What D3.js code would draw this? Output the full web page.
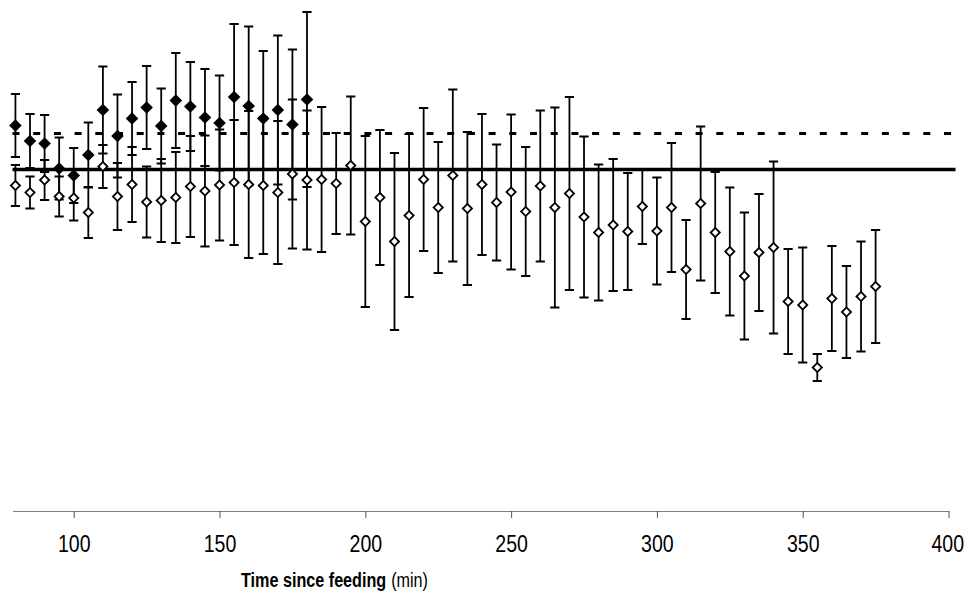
<!DOCTYPE html>
<html>
<head>
<meta charset="utf-8">
<script src="https://cdn.jsdelivr.net/npm/d3@7"></script>
<style>
  html, body { margin: 0; padding: 0; background: #fff; }
  svg { display: block; }
</style>
</head>
<body>
<svg id="chart" width="965" height="594"></svg>
<script>
// ---- data (y in arbitrary units, no y axis shown) ----
const timesFilled = [80, 85, 90, 95, 100, 105, 110, 115, 120, 125, 130, 135, 140, 145, 150, 155, 160, 165, 170, 175, 180];
const meanFilled  = [77.1, 74.0, 73.5, 68.5, 67.1, 71.2, 80.2, 75.0, 78.5, 80.7, 77.0, 82.1, 80.9, 78.7, 77.6, 82.8, 81.0, 78.5, 80.2, 77.3, 82.3];
const errFilled   = [6.3, 5.4, 5.7, 6.2, 5.5, 6.5, 8.7, 8.3, 7.3, 8.3, 7.5, 9.5, 8.9, 9.7, 9.5, 14.6, 15.9, 13.5, 14.9, 15.0, 17.5];

const timesOpen = [80, 85, 90, 95, 100, 105, 110, 115, 120, 125, 130, 135, 140, 145, 150, 155, 160, 165, 170, 175,
                   180, 185, 190, 195, 200, 205, 210, 215, 220, 225, 230, 235, 240, 245, 250, 255, 260, 265, 270, 275,
                   280, 285, 290, 295, 300, 305, 310, 315, 320, 325, 330, 335, 340, 345, 350, 355, 360, 365, 370, 375];
const meanOpen = [65.1, 63.7, 66.2, 62.9, 62.6, 59.7, 68.9, 62.9, 65.3, 61.8, 62.1, 62.7, 64.9, 64.0, 65.2, 65.7, 65.3, 65.1, 63.7, 67.4,
                  66.2, 66.3, 65.5, 69.1, 57.9, 62.7, 53.9, 59.1, 66.3, 60.7, 67.1, 60.5, 65.3, 61.7, 63.8, 59.9, 65.0, 60.7, 63.5, 58.8,
                  55.7, 57.2, 55.9, 60.9, 56.0, 60.7, 48.3, 61.5, 55.7, 51.9, 47.0, 51.7, 52.7, 41.9, 41.2, 28.7, 42.5, 39.8, 42.9, 44.9];
const errOpen  = [4.1, 3.2, 4.0, 4.0, 4.5, 5.1, 4.3, 6.7, 7.5, 7.1, 8.3, 9.1, 10.1, 11.1, 11.1, 12.5, 14.7, 13.7, 14.3, 14.9,
                  13.9, 14.5, 10.1, 13.8, 17.1, 13.5, 17.7, 16.3, 14.3, 13.1, 17.2, 15.3, 14.1, 11.6, 15.5, 12.9, 15.1, 20.0, 19.3, 16.1,
                  13.6, 13.2, 11.7, 7.5, 10.7, 12.9, 9.9, 15.4, 12.1, 12.8, 12.7, 11.7, 17.2, 10.5, 11.5, 2.7, 10.5, 9.2, 11.0, 11.3];

const refSolid  = 68.3;   // solid reference line
const refDashed = 75.5;   // dashed reference line
const refLineSpan = [79, 402.4];

const xTicks = [100, 150, 200, 250, 300, 350, 400];
const xTitleBold = "Time since feeding";
const xTitleUnit = "(min)";

// ---- scales ----
const svg = d3.select("#chart");
const x = d3.scaleLinear().domain([79, 400]).range([12.5, 948.5]);
const y = d3.scaleLinear().domain([0, 100]).range([511, 11]);

const FONT = "'Liberation Sans',Arial,sans-serif";
const NARROW = 0.85;   // horizontal condensing to mimic a narrow face

// ---- x axis ----
const axis = d3.axisBottom(x).tickValues(xTicks).tickSize(7).tickSizeOuter(0).tickFormat(d3.format("d"));
const gAxis = svg.append("g").attr("transform", `translate(0,${y(0)})`).call(axis);
gAxis.select(".domain").attr("stroke", "#808080").attr("stroke-width", 1.2);
gAxis.selectAll(".tick line").attr("stroke", "#555").attr("stroke-width", 1);
gAxis.selectAll(".tick text")
  .attr("y", 41).attr("dy", 0)
  .attr("x", d => d === xTicks[xTicks.length - 1] ? -1.5 : 0)
  .attr("transform", `scale(${NARROW},1)`)
  .attr("fill", "#000")
  .style("font-family", FONT)
  .style("font-size", "23px");

// axis title (bold label + regular unit)
const gTitle = svg.append("g").attr("transform", "translate(241,587) scale(0.77,1)");
gTitle.append("text")
  .attr("x", 0).attr("y", 0)
  .style("font-family", FONT).style("font-size", "21px").style("font-weight", "bold")
  .attr("fill", "#000").text(xTitleBold);
gTitle.append("text")
  .attr("x", 195).attr("y", 0)
  .style("font-family", FONT).style("font-size", "21px").style("font-weight", "normal")
  .attr("fill", "#000").text(xTitleUnit);

// ---- reference lines ----
svg.append("line")
  .attr("x1", x(refLineSpan[0])).attr("x2", x(refLineSpan[1]))
  .attr("y1", y(refDashed)).attr("y2", y(refDashed))
  .attr("stroke", "#000").attr("stroke-width", 3.2)
  .attr("stroke-dasharray", "7,13.7");
svg.append("line")
  .attr("x1", x(refLineSpan[0])).attr("x2", x(refLineSpan[1]))
  .attr("y1", y(refSolid)).attr("y2", y(refSolid))
  .attr("stroke", "#000").attr("stroke-width", 3.5);

// ---- error bars ----
function errorBars(times, means, errs, cls) {
  const data = times.map((t, i) => ({ t, m: means[i], e: errs[i] }));
  const g = svg.append("g").attr("class", cls);
  g.selectAll("line.v").data(data).enter().append("line").attr("class", "v")
    .attr("x1", d => x(d.t)).attr("x2", d => x(d.t))
    .attr("y1", d => y(d.m + d.e)).attr("y2", d => y(d.m - d.e))
    .attr("stroke", "#000").attr("stroke-width", 1.8);
  [1, -1].forEach(s => {
    g.selectAll("line.c" + (s > 0 ? "t" : "b")).data(data).enter().append("line")
      .attr("class", "c" + (s > 0 ? "t" : "b"))
      .attr("x1", d => x(d.t) - 4.6).attr("x2", d => x(d.t) + 4.6)
      .attr("y1", d => y(d.m + s * d.e)).attr("y2", d => y(d.m + s * d.e))
      .attr("stroke", "#000").attr("stroke-width", 2);
  });
}
errorBars(timesOpen, meanOpen, errOpen, "err-open");
errorBars(timesFilled, meanFilled, errFilled, "err-filled");

// ---- markers ----
function diamond(r) { return `M0,${-r}L${r},0L0,${r}L${-r},0Z`; }

svg.append("g").selectAll("path").data(timesOpen.map((t, i) => ({ t, m: meanOpen[i] })))
  .enter().append("path")
  .attr("d", diamond(4.6))
  .attr("transform", d => `translate(${x(d.t)},${y(d.m)})`)
  .attr("fill", "#fff").attr("stroke", "#000").attr("stroke-width", 1.8);

svg.append("g").selectAll("path").data(timesFilled.map((t, i) => ({ t, m: meanFilled[i] })))
  .enter().append("path")
  .attr("d", diamond(6.3))
  .attr("transform", d => `translate(${x(d.t)},${y(d.m)})`)
  .attr("fill", "#000").attr("stroke", "none");
</script>
</body>
</html>
